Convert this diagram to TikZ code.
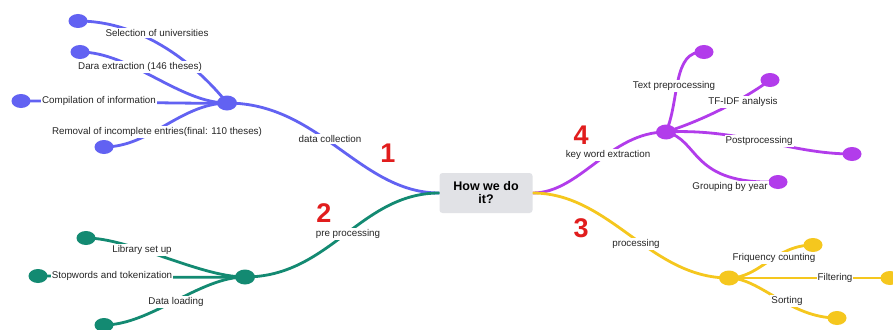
\documentclass[tikz,border=0pt]{standalone}
\usepackage{fontspec}
\setmainfont{Liberation Sans}
\usetikzlibrary{shapes.geometric,backgrounds}
\definecolor{cblue}{HTML}{6262F2}
\definecolor{cgreen}{HTML}{138A72}
\definecolor{cpurple}{HTML}{B23CEB}
\definecolor{cyellow}{HTML}{F5C71E}
\definecolor{cred}{HTML}{E11D1D}
\definecolor{cgray}{HTML}{E1E2E6}
\tikzset{
  dot/.style={ellipse,minimum width=19pt,minimum height=14pt,inner sep=0pt,fill=#1},
  hub/.style={ellipse,minimum width=20pt,minimum height=15pt,inner sep=0pt,fill=#1},
  lbl/.style={fill=white,inner sep=1pt,font=\fontsize{9.8}{11}\selectfont,text=black!85},
  num/.style={text=cred,font=\fontsize{27}{27}\selectfont\bfseries},
  conn/.style={draw=#1,line width=2.8pt,line cap=round},
  central/.style={fill=cgray,rounded corners=3pt,minimum width=93pt,minimum height=40pt,align=center,font=\fontsize{12.5}{13}\selectfont\bfseries,inner sep=2pt}
}
\begin{document}
\begin{tikzpicture}[x=1pt,y=-1pt]
\useasboundingbox (0,0) rectangle (893,329);
% central
\node[central] (C) at (486,193) {How we do\\it?};
% hubs
\node[hub=cblue] (B) at (227,103) {};
\node[hub=cgreen] (G) at (245,277) {};
\node[hub=cpurple] (P) at (666,132) {};
\node[hub=cyellow] (Y) at (729,278) {};
% blue leaves
\node[dot=cblue] (b1) at (78,21) {};
\node[dot=cblue] (b2) at (80,52) {};
\node[dot=cblue] (b3) at (21,101) {};
\node[dot=cblue] (b4) at (104,147) {};
% green leaves
\node[dot=cgreen] (g1) at (86,238) {};
\node[dot=cgreen] (g2) at (38,276) {};
\node[dot=cgreen] (g3) at (104,325) {};
% purple leaves
\node[dot=cpurple] (p1) at (704,52) {};
\node[dot=cpurple] (p2) at (770,80) {};
\node[dot=cpurple] (p3) at (852,154) {};
\node[dot=cpurple] (p4) at (778,182) {};
% yellow leaves
\node[dot=cyellow] (y1) at (813,245) {};
\node[dot=cyellow] (y2) at (890,278) {};
\node[dot=cyellow] (y3) at (837,318) {};
% connectors
\begin{pgfonlayer}{background}
\fill[white] (0,0) rectangle (893,329);
\draw[conn=cblue] (B.center) .. controls (320,103) and (360,193) .. (C.west);
\draw[conn=cblue] (b1.center) .. controls (150,21) and (205,75) .. (B.center);
\draw[conn=cblue] (b2.center) .. controls (130,52) and (180,103) .. (B.center);
\draw[conn=cblue] (b3.center) .. controls (100,101) and (180,104) .. (B.center);
\draw[conn=cblue] (b4.center) .. controls (150,147) and (180,104) .. (B.center);
\draw[conn=cgreen] (G.center) .. controls (330,277) and (360,193) .. (C.west);
\draw[conn=cgreen] (g1.center) .. controls (130,238) and (200,277) .. (G.center);
\draw[conn=cgreen] (g2.center) .. controls (100,276) and (180,278) .. (G.center);
\draw[conn=cgreen] (g3.center) .. controls (150,325) and (200,277) .. (G.center);
\draw[conn=cpurple] (C.east) .. controls (580,193) and (610,132) .. (P.center);
\draw[conn=cpurple] (P.center) .. controls (680,100) and (672,50) .. (p1.center);
\draw[conn=cpurple] (P.center) .. controls (710,118) and (750,95) .. (p2.center);
\draw[conn=cpurple] (P.center) .. controls (740,128) and (790,154) .. (p3.center);
\draw[conn=cpurple] (P.center) .. controls (700,140) and (690,185) .. (p4.center);
\draw[conn=cyellow] (C.east) .. controls (610,193) and (650,278) .. (Y.center);
\draw[conn=cyellow] (Y.center) .. controls (760,278) and (775,245) .. (y1.center);
\draw[conn=cyellow] (Y.center) -- (y2.center);
\draw[conn=cyellow] (Y.center) .. controls (760,278) and (790,318) .. (y3.center);
\end{pgfonlayer}
% labels
\node[lbl] (lb1) at (157,33) {Selection of universities};
\node[lbl] (lb2) at (140,67) {Dara extraction (146 theses)};
\node[lbl] (lb3) at (99,101) {Compilation of information};
\node[lbl] (lb4) at (157,132) {Removal of incomplete entries(final: 110 theses)};
\node[lbl] (lbm) at (330,139) {data collection};
\node[lbl] (lg1) at (142,250) {Library set up};
\node[lbl] (lg2) at (112,276) {Stopwords and tokenization};
\node[lbl] (lg3) at (176,302) {Data loading};
\node[lbl] (lgm) at (348,234) {pre processing};
\node[lbl] (lp1) at (674,86) {Text preprocessing};
\node[lbl] (lp2) at (743,102) {TF-IDF analysis};
\node[lbl] (lp3) at (759,141) {Postprocessing};
\node[lbl] (lp4) at (730,187) {Grouping by year};
\node[lbl] (lpm) at (608,155) {key word extraction};
\node[lbl] (ly1) at (774,258) {Friquency counting};
\node[lbl] (ly2) at (835,278) {Filtering};
\node[lbl] (ly3) at (787,301) {Sorting};
\node[lbl] (lym) at (636,244) {processing};
% numbers
\node[num] (n1) at (388,153) {1};
\node[num] (n2) at (324,213) {2};
\node[num] (n3) at (581,228) {3};
\node[num] (n4) at (581,135) {4};
\end{tikzpicture}
\end{document}
